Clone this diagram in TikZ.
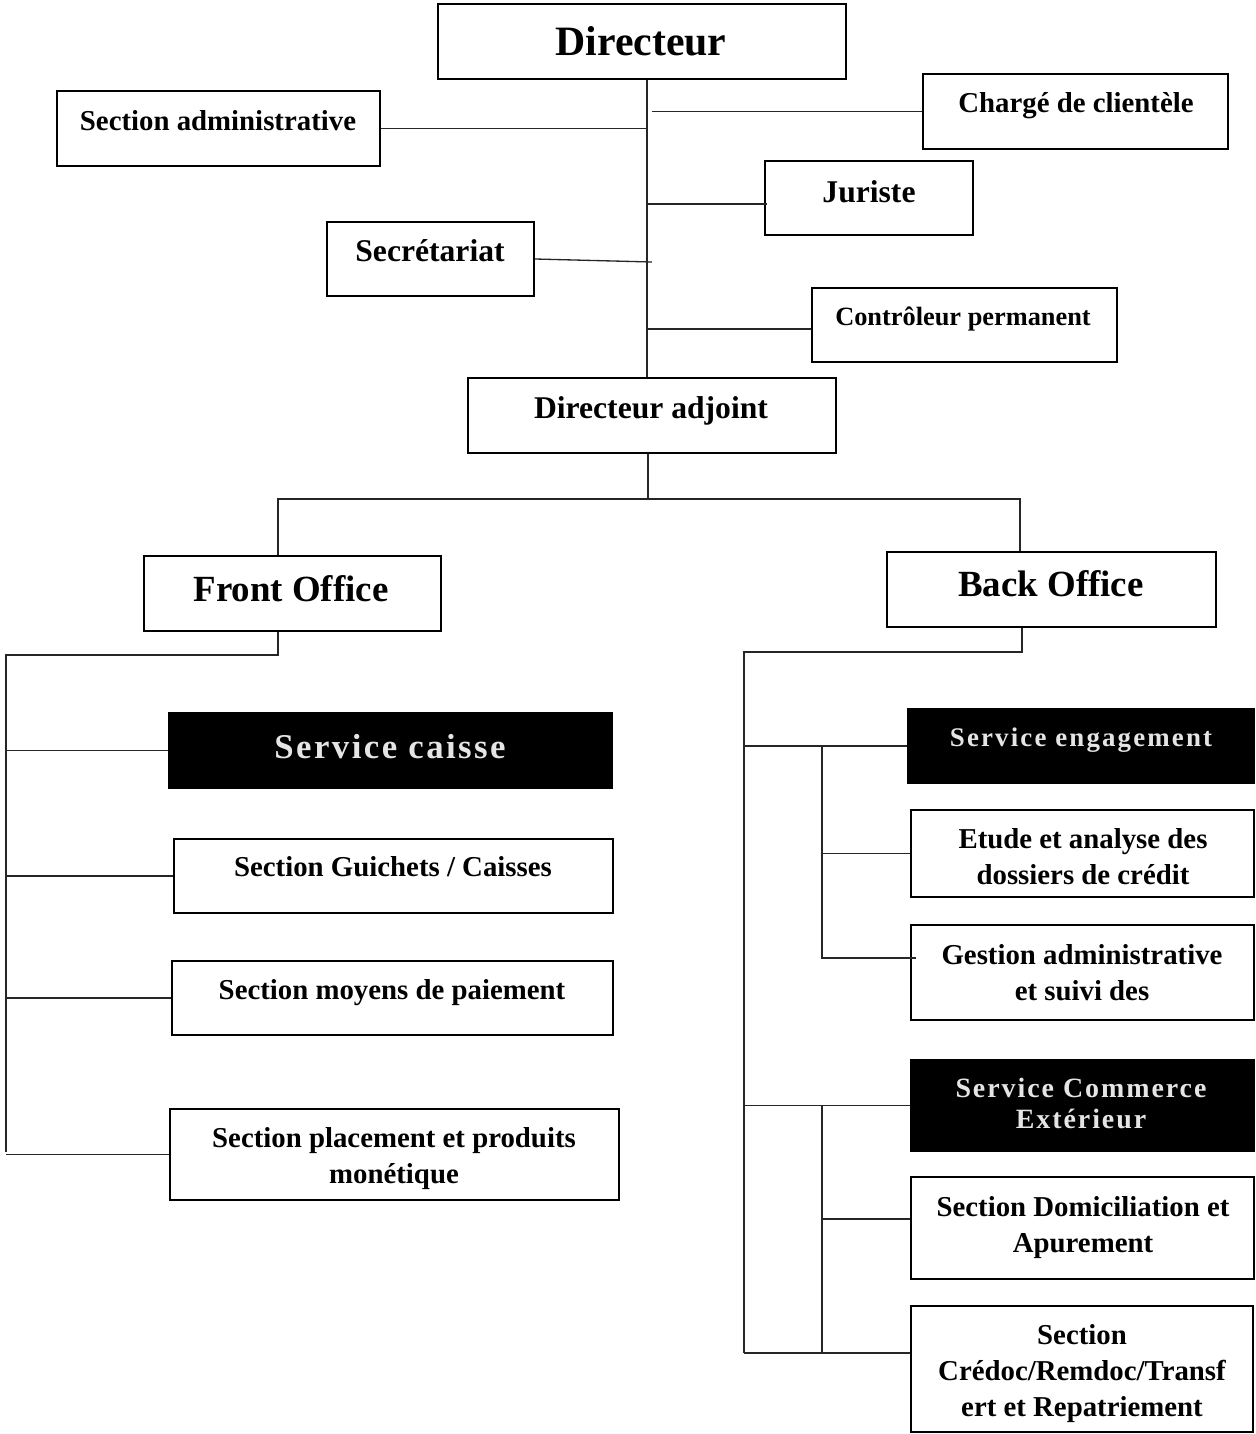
\documentclass[tikz,border=0pt]{standalone}
\usepackage{fontspec}
\setmainfont{Liberation Serif}
\newfontfamily\lspa[LetterSpace=7]{Liberation Serif}
\newfontfamily\lspb[LetterSpace=8]{Liberation Serif}
\usetikzlibrary{fit,calc}
\newcommand\fsz[1]{\fontsize{#1}{20.4}\selectfont}
\begin{document}
\begin{tikzpicture}[x=0.02cm,y=-0.02cm,
  box/.style={draw, line width=1.4pt, inner sep=0pt},
  dark/.style={fill=black, draw=none, inner sep=0pt},
  conn/.style={line width=0.75pt, draw=black!85},
  lbl/.style={anchor=base, inner sep=0pt, align=center, font=\bfseries\fsz{16.4}},
  wlbl/.style={anchor=base, inner sep=0pt, align=center, text=white!90!black}
]
\useasboundingbox (0,0) rectangle (1255,1434);

% boxes
\node[box, fit={(438,4) (846,79)}] (dir) {};
\node[box, fit={(57,91) (380,166)}] (sadm) {};
\node[box, fit={(923,74) (1228,149)}] (charge) {};
\node[box, fit={(765,161) (973,235)}] (jur) {};
\node[box, fit={(327,222) (534,296)}] (sec) {};
\node[box, fit={(812,288) (1117,362)}] (ctrl) {};
\node[box, fit={(468,378) (836,453)}] (adj) {};
\node[box, fit={(144,556) (441,631)}] (front) {};
\node[box, fit={(887,552) (1216,627)}] (back) {};
\node[dark, fit={(168,712) (613,789)}] (caisse) {};
\node[box, fit={(174,839) (613,913)}] (guich) {};
\node[box, fit={(172,961) (613,1035)}] (moy) {};
\node[box, fit={(170,1109) (619,1200)}] (place) {};
\node[dark, fit={(907,708) (1255,784)}] (engag) {};
\node[box, fit={(911,810) (1254,897)}] (etude) {};
\node[box, fit={(911,925) (1254,1020)}] (gest) {};
\node[dark, fit={(910,1059) (1255,1152)}] (comm) {};
\node[box, fit={(911,1177) (1254,1279)}] (domi) {};
\node[box, fit={(911,1306) (1253,1432)}] (credoc) {};

% texts
\node[lbl, font=\bfseries\fsz{23.8}] (tdir) at (641,55) {Directeur};
\node[lbl] (tsadm) at (218,130) {Section administrative};
\node[lbl] (tcharge) at (1076,112) {Chargé de clientèle};
\node[lbl, font=\bfseries\fsz{18}] (tjur) at (869,202) {Juriste};
\node[lbl, font=\bfseries\fsz{18}] (tsec) at (430,261) {Secrétariat};
\node[lbl, font=\bfseries\fsz{15}] (tctrl) at (963,325) {Contrôleur permanent};
\node[lbl, font=\bfseries\fsz{18}] (tadj) at (651,418) {Directeur adjoint};
\node[lbl, font=\bfseries\fsz{21}] (tfront) at (291,601) {Front Office};
\node[lbl, font=\bfseries\fsz{21}] (tback) at (1051,596) {Back Office};
\node[wlbl, font=\lspa\bfseries\fsz{19.8}] (tcaisse) at (390,758) {Service caisse};
\node[lbl] (tguich) at (393,876) {Section Guichets / Caisses};
\node[lbl] (tmoy) at (392,999) {Section moyens de paiement};
\node[lbl] (tplace) at (394,1183) {Section placement et produits\\monétique};
\node[wlbl, font=\lspb\bfseries\fsz{15.3}] (tengag) at (1081,746) {Service engagement};
\node[lbl] (tetude) at (1083,884) {Etude et analyse des\\dossiers de crédit};
\node[lbl] (tgest) at (1082,1000) {Gestion administrative\\et suivi des};
\node[wlbl, font=\lspa\bfseries\fontsize{15.9}{17.6}\selectfont] (tcomm) at (1081,1128) {Service Commerce\\Extérieur};
\node[lbl] (tdomi) at (1083,1252) {Section Domiciliation et\\Apurement};
\node[lbl] (tcred) at (1082,1416) {Section\\Crédoc/Remdoc/Transf\\ert et Repatriement};

% spine
\coordinate (sp) at (647,0);
\coordinate (sp2) at (652,0);
\draw[conn] (dir.south -| sp) -- (adj.north -| sp);
\draw[conn] (sadm.east) -- (sadm.east -| sp);
\draw[conn] (charge.west) -- (charge.west -| sp2);
\coordinate (jj) at (647,204);
\draw[conn] (jj) -- ($(jj -| jur.west)+(3,0)$);
\coordinate (js) at (652,262);
\draw[conn] (sec.east) -- (js);
\coordinate (jc) at (647,329);
\draw[conn] (jc) -- (jc -| ctrl.west);

% below adjoint
\coordinate (h1) at (648,499);
\coordinate (fl) at (278,499);
\coordinate (br) at (1020,499);
\draw[conn] (adj.south -| h1) -- (h1);
\draw[conn] (h1) -- (fl) -- (fl |- front.north);
\draw[conn] (h1) -- (br) -- (br |- back.north);

% front office tree
\coordinate (fo) at (278,655);
\coordinate (fv) at (6,655);
\coordinate (fb) at (6,1152);
\draw[conn] (front.south -| fo) -- (fo) -- (fv) -- (fb);
\draw[conn] (caisse.west -| fv) -- (caisse.west);
\draw[conn] (guich.west -| fv) -- (guich.west);
\draw[conn] (moy.west -| fv) -- (moy.west);
\draw[conn] (place.west -| fv) -- (place.west);

% back office tree
\coordinate (bo) at (1022,652);
\coordinate (bv) at (744,652);
\coordinate (bb) at (744,1353);
\draw[conn] (back.south -| bo) -- (bo) -- (bv) -- (bb);
\coordinate (e1) at (822,746);
\coordinate (e2) at (822,958);
\draw[conn] (engag.west -| bv) -- (engag.west);
\draw[conn] (e1) -- (e2) -- ($(e2 -| gest.west)+(6,0)$);
\draw[conn] (etude.west -| e1) -- (etude.west);
\coordinate (c1) at (822,1108);
\coordinate (c2) at (822,1219);
\coordinate (c3) at (822,1353);
\draw[conn] (comm.west -| bv) -- (comm.west);
\draw[conn] (comm.west -| c1) -- (c3);
\draw[conn] (c2) -- (c2 -| domi.west);
\draw[conn] (bb) -- (bb -| credoc.west);
\end{tikzpicture}
\end{document}
